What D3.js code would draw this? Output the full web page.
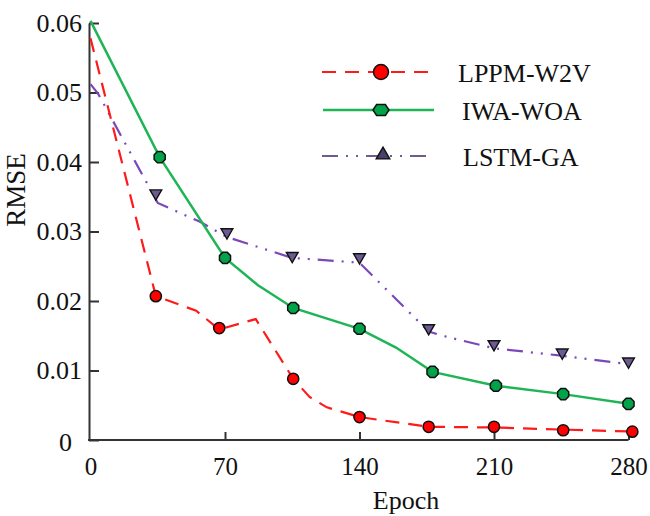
<!DOCTYPE html>
<html><head><meta charset="utf-8">
<script src="https://cdn.jsdelivr.net/npm/d3@7"></script>
<style>body{margin:0;background:#fff}svg{display:block}text{font-family:"Liberation Serif","Times New Roman",serif;fill:#111}</style>
</head><body><svg id="c" width="650" height="516"></svg>
<script>
// ---- data ----
const xTicks = [0, 70, 140, 210, 280];
const yTicks = [0, 0.01, 0.02, 0.03, 0.04, 0.05, 0.06];
const seriesNames = ["LPPM-W2V", "IWA-WOA", "LSTM-GA"];

// line vertices [epoch, RMSE]
const lppmLine = [[0,0.0578],[34,0.0207],[55,0.0186],[67,0.0159],[86,0.0174],[105.5,0.0088],[114,0.0062],[123,0.0047],[140,0.0033],[176,0.0019],[210,0.0018],[246,0.0015],[284,0.0012]];
const iwaLine  = [[0,0.0603],[36,0.0407],[70,0.0262],[87,0.0223],[105.5,0.0190],[140,0.0160],[159,0.0133],[178,0.0098],[211,0.0078],[246,0.0066],[280,0.0052]];
const lstmLine = [[0,0.0512],[4,0.0498],[35,0.0341],[57,0.0314],[71,0.0292],[105,0.0262],[136,0.0256],[140,0.0255],[176,0.0156],[186,0.0148],[210,0.0132],[246,0.0121],[280,0.0109]];

// marker positions
const lppmMarkX = [34, 67, 105.5, 140, 176, 210, 246, 282];
const lppmMarkY = [0.0207, 0.0161, 0.0088, 0.0033, 0.0019, 0.0019, 0.0014, 0.0012];
const iwaMarkX  = [36, 70, 105.5, 140, 178, 211, 246, 280];
const iwaMarkY  = [0.0407, 0.0262, 0.0190, 0.0160, 0.0098, 0.0078, 0.0066, 0.0052];
const lstmMarkX = [34, 71, 105, 140, 176, 210, 245.5, 280];
const lstmMarkY = [0.0355, 0.0299, 0.0265, 0.0263, 0.0161, 0.0138, 0.0126, 0.0113];

// ---- chart ----
const svg = d3.select("#c");
const x = d3.scaleLinear().domain([0, 280]).range([90.5, 628.5]);
const y = d3.scaleLinear().domain([0, 0.06]).range([440, 23]);

const cRed = "#ff1a1a", cGreen = "#1fb556", cPurple = "#7a48b8";

// axes
const gy = svg.append("g").attr("transform", `translate(${x(0) - 1.5},0)`)
  .call(d3.axisLeft(y).tickValues(yTicks).tickSizeInner(-10).tickSizeOuter(0).tickPadding(7)
    .tickFormat(d => d === 0 ? "0" : d3.format(".2f")(d)));
gy.select(".domain").attr("stroke", "#333").attr("stroke-width", 2);
gy.selectAll(".tick line").attr("stroke", "#333").attr("stroke-width", 2);
gy.selectAll(".tick text").attr("font-size", 26).attr("font-family", "Liberation Serif").attr("fill", "#111")
  .attr("dx", d => d === 0 ? -10 : 0).attr("dy", d => d === 0 ? "0.4em" : "0.32em");

const gx = svg.append("g").attr("transform", `translate(0,${y(0)})`)
  .call(d3.axisBottom(x).tickValues(xTicks).tickSizeInner(-8).tickSizeOuter(0).tickPadding(17));
gx.select(".domain").attr("stroke", "#333").attr("stroke-width", 2).attr("d", `M${x(0)-2.5},0H${x(280)}`);
gx.selectAll(".tick line").attr("stroke", "#333").attr("stroke-width", 2).attr("opacity", d => d === 0 ? 0 : 1);
gx.selectAll(".tick text").attr("font-size", 25).attr("font-family", "Liberation Serif").attr("fill", "#111");

svg.append("text").attr("x", 406).attr("y", 509).attr("text-anchor", "middle").attr("font-size", 26).text("Epoch");
svg.append("text").attr("transform", "translate(25,190) rotate(-90)").attr("text-anchor", "middle").attr("font-size", 27).text("RMSE");

const line = d3.line().x(d => x(d[0])).y(d => y(d[1]));

svg.append("path").datum(lstmLine).attr("d", line).attr("fill", "none").attr("stroke", cPurple)
  .attr("stroke-width", 2.2).attr("stroke-dasharray", "16,8,2,8,2,8");
svg.append("path").datum(iwaLine).attr("d", line).attr("fill", "none").attr("stroke", cGreen).attr("stroke-width", 2.5);
svg.append("path").datum(lppmLine).attr("d", line).attr("fill", "none").attr("stroke", cRed)
  .attr("stroke-width", 2.2).attr("stroke-dasharray", "14,9");

// markers
const triDown = d3.symbol().type(d3.symbolTriangle).size(60);
svg.append("g").selectAll("path").data(d3.zip(lstmMarkX, lstmMarkY)).join("path")
  .attr("d", triDown).attr("transform", d => `translate(${x(d[0])},${y(d[1])}) rotate(180)`)
  .attr("fill", "#6c5a92").attr("stroke", "#111").attr("stroke-width", 1.4);

const hex = (cx, cy, rx, ry) => {
  const pts = [[-rx,0],[-rx*0.55,-ry],[rx*0.55,-ry],[rx,0],[rx*0.55,ry],[-rx*0.55,ry]];
  return "M" + pts.map(p => [cx + p[0], cy + p[1]].join(",")).join("L") + "Z";
};
const oct = (cx, cy, r) => {
  const pts = d3.range(8).map(i => { const a = Math.PI / 8 + i * Math.PI / 4; return [cx + r * Math.cos(a), cy + r * Math.sin(a)]; });
  return "M" + pts.map(p => p.join(",")).join("L") + "Z";
};
svg.append("g").selectAll("path").data(d3.zip(iwaMarkX, iwaMarkY)).join("path")
  .attr("d", d => oct(x(d[0]), y(d[1]), 6))
  .attr("fill", "#00a24a").attr("stroke", "#111").attr("stroke-width", 1.5);

svg.append("g").selectAll("circle").data(d3.zip(lppmMarkX, lppmMarkY)).join("circle")
  .attr("cx", d => x(d[0])).attr("cy", d => y(d[1])).attr("r", 5.6)
  .attr("fill", "#ff0000").attr("stroke", "#111").attr("stroke-width", 1.5);

// legend
const lg = svg.append("g");
const rows = [72, 110, 156];
lg.append("line").attr("x1", 322).attr("x2", 432).attr("y1", rows[0]).attr("y2", rows[0])
  .attr("stroke", cRed).attr("stroke-width", 2.2).attr("stroke-dasharray", "14,9");
lg.append("circle").attr("cx", 381).attr("cy", rows[0]).attr("r", 7.5).attr("fill", "#ff0000").attr("stroke", "#111").attr("stroke-width", 1.5);
lg.append("line").attr("x1", 323).attr("x2", 434).attr("y1", rows[1]).attr("y2", rows[1])
  .attr("stroke", cGreen).attr("stroke-width", 2.5);
lg.append("path").attr("d", hex(381, rows[1], 8, 5.5)).attr("fill", "#00a24a").attr("stroke", "#111").attr("stroke-width", 1.5);
lg.append("line").attr("x1", 322).attr("x2", 428).attr("y1", rows[2]).attr("y2", rows[2])
  .attr("stroke", "#6e5c90").attr("stroke-width", 2.2).attr("stroke-dasharray", "16,8,2,8,2,8");
lg.append("path").attr("d", d3.symbol().type(d3.symbolTriangle).size(80)).attr("transform", `translate(383,${rows[2]-1})`)
  .attr("fill", "#4a3f6b").attr("stroke", "#111").attr("stroke-width", 1.4);
const textX = [458, 462, 463];
seriesNames.forEach((n, i) => {
  lg.append("text").attr("x", textX[i]).attr("y", rows[i] + 1).attr("dy", "0.35em").attr("font-size", 26).text(n);
});
</script></body></html>
